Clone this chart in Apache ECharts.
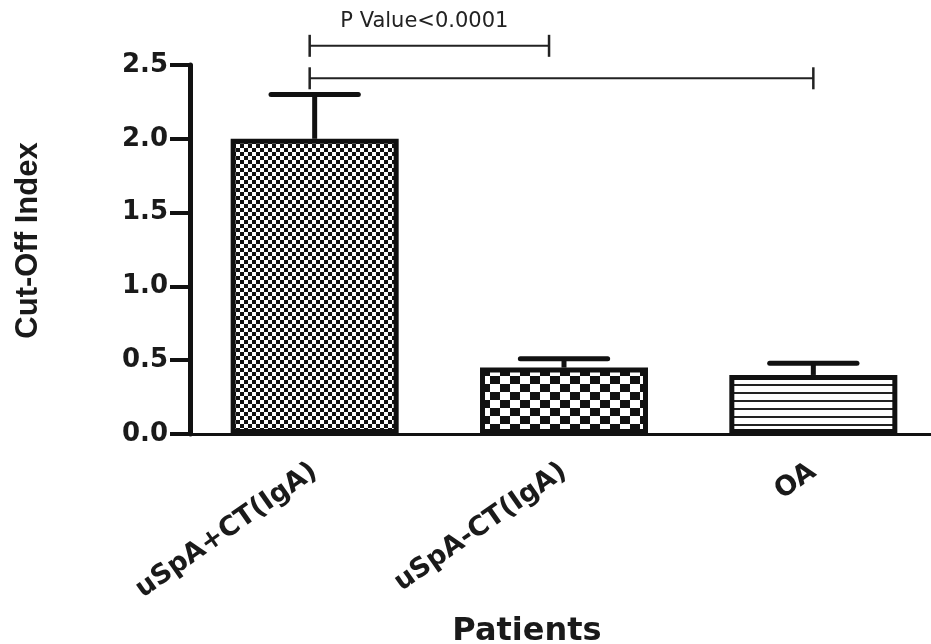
<!DOCTYPE html>
<html><head><meta charset="utf-8">
<script src="https://cdn.jsdelivr.net/npm/echarts@6/dist/echarts.min.js"></script>
<style>html,body{margin:0;padding:0;background:#fff}#c{width:931px;height:644px}</style>
</head><body><div id="c"></div>
<script>
// ---- data ----
const categories = ['uSpA+CT(IgA)', 'uSpA-CT(IgA)', 'OA'];
const means = [2.00, 0.45, 0.40];
const sems = [0.30, 0.06, 0.08];
const yMin = 0, yMax = 2.5, yStep = 0.5;
// significance brackets: ends in category units, height in y units
const bracketLeft = [-0.02, -0.02];
const bracketRight = [0.94, 2.0];
const bracketY = [2.63, 2.41];
const bracketText = ['P Value<0.0001', ''];

// ---- patterns ----
function makeCanvas(w, h, draw) {
  const c = document.createElement('canvas');
  c.width = w; c.height = h;
  const ctx = c.getContext('2d');
  ctx.fillStyle = '#fff'; ctx.fillRect(0, 0, w, h);
  ctx.fillStyle = '#111';
  draw(ctx);
  return c;
}
const fineChecker = makeCanvas(8, 8, ctx => { ctx.fillRect(0,0,4,4); ctx.fillRect(4,4,4,4); });
const bigChecker = makeCanvas(20, 16, ctx => { ctx.fillRect(0,0,10,8); ctx.fillRect(10,8,10,8); });
const hLines = makeCanvas(8, 8, ctx => { ctx.fillStyle = '#222'; ctx.fillRect(0,0,8,2); });
const patterns = [fineChecker, bigChecker, hLines];

const chart = echarts.init(document.getElementById('c'), null, {renderer: 'canvas'});
const ink = '#111';

chart.setOption({
  animation: false,
  backgroundColor: '#fff',
  grid: {left: 190, right: -7, top: 65, bottom: 210, containLabel: false, outerBoundsMode: 'none'},
  xAxis: {
    type: 'category',
    data: categories,
    name: 'Patients',
    nameLocation: 'middle',
    nameGap: 182,
    nameTextStyle: {fontFamily: 'DejaVu Sans', fontWeight: 'bold', fontSize: 32, color: '#1a1a1a', padding: [0, 74, 0, 0]},
    axisLine: {lineStyle: {color: ink, width: 3}},
    axisTick: {alignWithLabel: true, length: 12, lineStyle: {color: ink, width: 3}},
    axisLabel: {rotate: 35, margin: 35, fontFamily: 'DejaVu Sans', fontWeight: 'bold', fontSize: 27, color: '#1a1a1a'},
    splitLine: {show: false}
  },
  yAxis: {
    type: 'value',
    min: yMin, max: yMax, interval: yStep,
    name: 'Cut-Off Index',
    nameLocation: 'middle',
    nameRotate: 90,
    nameGap: 146,
    nameTextStyle: {fontFamily: 'Liberation Sans Narrow, Liberation Sans', fontWeight: 'bold', fontSize: 31, color: '#1a1a1a', padding: [0, 0, 0, 18]},
    axisLine: {show: true, lineStyle: {color: ink, width: 5}},
    axisTick: {show: true, length: 20, lineStyle: {color: ink, width: 4}},
    axisLabel: {margin: 22, fontFamily: 'DejaVu Sans', fontWeight: 'bold', fontSize: 26, color: '#1a1a1a',
      formatter: v => v.toFixed(1)},
    splitLine: {show: false}
  },
  series: [
    {
      type: 'bar',
      barWidth: 168,
      data: means.map((v, i) => ({
        value: v,
        itemStyle: {color: {image: patterns[i], repeat: 'repeat'}, borderColor: ink, borderWidth: 5}
      })),
      emphasis: {disabled: true}
    },
    {
      type: 'custom',
      data: means.map((m, i) => [i, m, sems[i]]),
      encode: {x: 0, y: 1},
      z: 3,
      renderItem: function (params, api) {
        const i = api.value(0), m = api.value(1), e = api.value(2);
        const p0 = api.coord([i, m]);
        const p1 = api.coord([i, m + e]);
        const half = api.size([1, 0])[0] * 0.175;
        return {type: 'group', children: [
          {type: 'line', shape: {x1: p0[0], y1: p0[1], x2: p1[0], y2: p1[1]}, style: {stroke: ink, lineWidth: 5}},
          {type: 'line', shape: {x1: p1[0] - half, y1: p1[1], x2: p1[0] + half, y2: p1[1]}, style: {stroke: ink, lineWidth: 5, lineCap: 'round'}}
        ]};
      }
    },
    {
      type: 'custom',
      data: bracketY.map((y, k) => [k, y]),
      clip: false,
      z: 4,
      renderItem: function (params, api) {
        const k = params.dataIndex;
        const y = bracketY[k];
        const band = api.size([1, 0])[0];
        const base = api.coord([0, y]);
        const xL = base[0] + bracketLeft[k] * band;
        const xR = base[0] + bracketRight[k] * band;
        const yp = base[1];
        const t = 11;
        const children = [
          {type: 'line', shape: {x1: xL, y1: yp, x2: xR, y2: yp}, style: {stroke: '#222', lineWidth: 2}},
          {type: 'line', shape: {x1: xL, y1: yp - t, x2: xL, y2: yp + t}, style: {stroke: '#222', lineWidth: 2.5}},
          {type: 'line', shape: {x1: xR, y1: yp - t, x2: xR, y2: yp + t}, style: {stroke: '#222', lineWidth: 2.5}}
        ];
        if (bracketText[k]) {
          children.push({type: 'text', style: {text: bracketText[k], x: (xL + xR) / 2 - 5, y: yp - 24,
            align: 'center', verticalAlign: 'middle', font: '21px "DejaVu Sans"', fill: '#222'}});
        }
        return {type: 'group', children};
      }
    }
  ]
});
</script>
</body></html>
